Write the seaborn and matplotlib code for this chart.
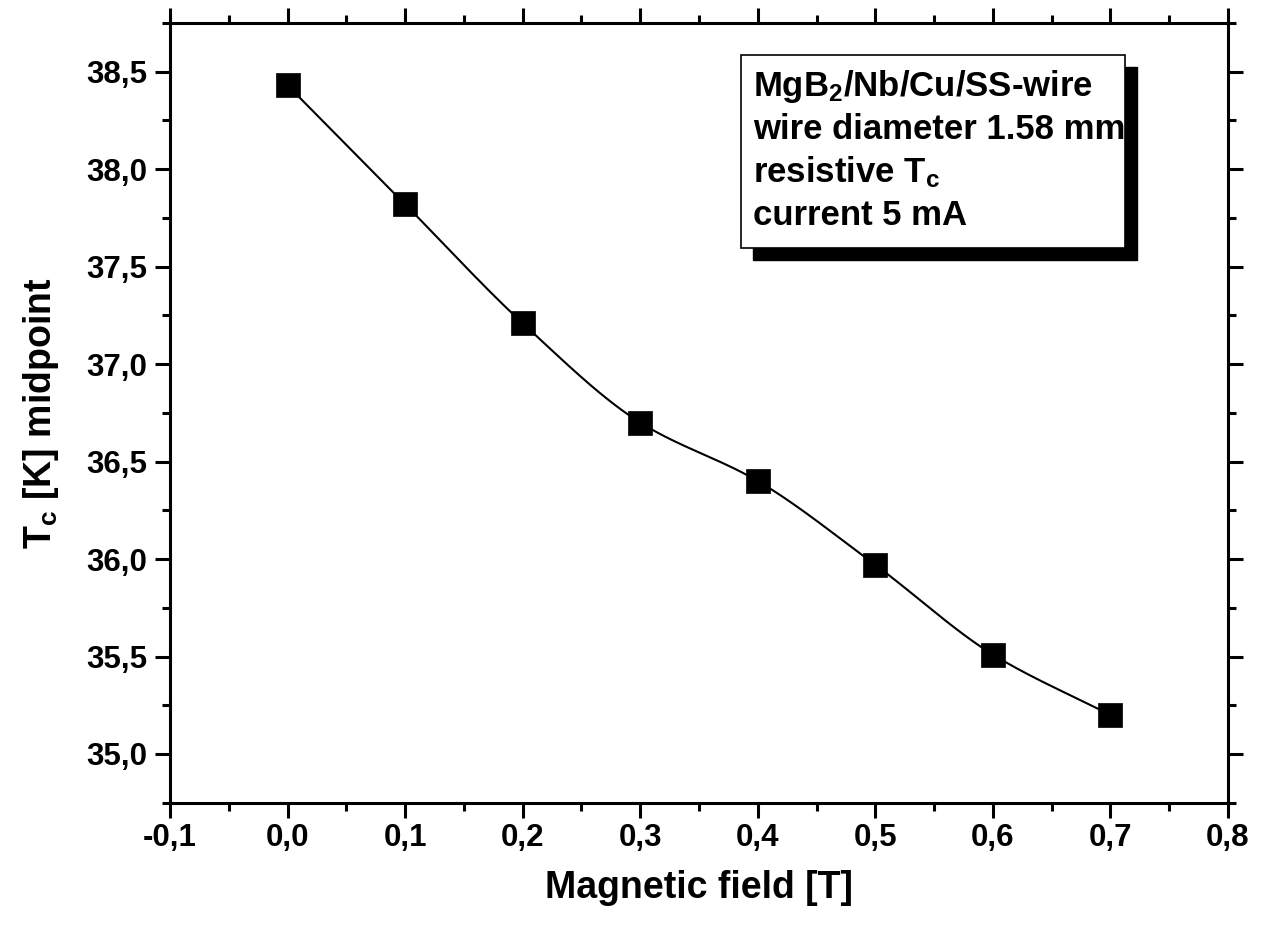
import numpy as np
import pandas as pd
import matplotlib
matplotlib.use("Agg")
import matplotlib.pyplot as plt
from matplotlib.ticker import MultipleLocator, FuncFormatter
from matplotlib.patches import Rectangle
import seaborn as sns

# ---- data ----
field_T = [0.0, 0.1, 0.2, 0.3, 0.4, 0.5, 0.6, 0.7]
tc_mid_K = [38.43, 37.82, 37.21, 36.70, 36.40, 35.97, 35.51, 35.20]
legend_lines = ["MgB$_2$/Nb/Cu/SS-wire", "wire diameter 1.58 mm",
                "resistive T$_c$", "current 5 mA"]
x_label = "Magnetic field [T]"
y_label = "T$_c$ [K] midpoint"

sns.set_theme(style="ticks")
plt.rcParams["font.family"] = ["Liberation Sans", "DejaVu Sans"]
plt.rcParams["font.weight"] = "bold"
plt.rcParams["text.color"] = "black"
plt.rcParams["axes.labelcolor"] = "black"
plt.rcParams["xtick.color"] = "black"
plt.rcParams["ytick.color"] = "black"
plt.rcParams["mathtext.fontset"] = "custom"
plt.rcParams["mathtext.rm"] = "Liberation Sans:bold"
plt.rcParams["mathtext.it"] = "Liberation Sans:bold"
plt.rcParams["mathtext.bf"] = "Liberation Sans:bold"
plt.rcParams["mathtext.default"] = "rm"


def pchip(x, y, xs):
    x = np.asarray(x, float); y = np.asarray(y, float)
    n = len(x); h = np.diff(x); dlt = np.diff(y) / h
    d = np.zeros(n)
    for i in range(1, n - 1):
        if dlt[i - 1] * dlt[i] > 0:
            w1 = 2 * h[i] + h[i - 1]; w2 = h[i] + 2 * h[i - 1]
            d[i] = (w1 + w2) / (w1 / dlt[i - 1] + w2 / dlt[i])
    d[0] = dlt[0]; d[-1] = dlt[-1]
    out = np.empty_like(xs)
    for k, xv in enumerate(xs):
        i = min(max(np.searchsorted(x, xv) - 1, 0), n - 2)
        t = (xv - x[i]) / h[i]
        h00 = 2 * t**3 - 3 * t**2 + 1; h10 = t**3 - 2 * t**2 + t
        h01 = -2 * t**3 + 3 * t**2; h11 = t**3 - t**2
        out[k] = h00 * y[i] + h10 * h[i] * d[i] + h01 * y[i + 1] + h11 * h[i] * d[i + 1]
    return out


df = pd.DataFrame({"field": field_T, "tc": tc_mid_K})
xs = np.linspace(min(field_T), max(field_T), 300)
smooth = pd.DataFrame({"field": xs, "tc": pchip(field_T, tc_mid_K, xs)})

W, H = 1261, 931
fig = plt.figure(figsize=(W / 100, H / 100), dpi=100)
ax = fig.add_axes([170 / W, 1 - 802.7 / H, (1228 - 170) / W, (802.7 - 23) / H])

sns.lineplot(data=smooth, x="field", y="tc", color="black", linewidth=1.5, ax=ax)
sns.scatterplot(data=df, x="field", y="tc", marker="s", s=17 ** 2, color="black",
                edgecolor="black", linewidth=0.5, ax=ax, zorder=5)

ax.set_xlim(-0.1, 0.8)
ax.set_ylim(34.75, 38.75)
ax.xaxis.set_major_locator(MultipleLocator(0.1))
ax.xaxis.set_minor_locator(MultipleLocator(0.05))
ax.yaxis.set_major_locator(MultipleLocator(0.5))
ax.yaxis.set_minor_locator(MultipleLocator(0.25))
ax.xaxis.set_major_formatter(FuncFormatter(lambda v, p: f"{v:.1f}".replace(".", ",").replace("-0,0", "0,0")))
ax.yaxis.set_major_formatter(FuncFormatter(lambda v, p: f"{v:.1f}".replace(".", ",")))

for s in ax.spines.values():
    s.set_visible(True)
    s.set_linewidth(2.2)
    s.set_color("black")
ax.tick_params(which="both", direction="out", top=True, right=True, width=2.2, color="black")
ax.tick_params(which="major", length=10.5, labelsize=22.5)
ax.tick_params(axis="x", which="major", pad=4)
ax.tick_params(axis="y", which="major", pad=6)
ax.tick_params(which="minor", length=5.5)
for lab in ax.get_xticklabels() + ax.get_yticklabels():
    lab.set_fontweight("bold")

ax.set_xlabel(x_label, fontsize=27, fontweight="bold", labelpad=12)
ax.set_ylabel(y_label, fontsize=27, fontweight="bold", labelpad=18)

def fx(px):
    return px / W

def fy(py):
    return 1 - py / H

fig.patches.append(Rectangle((fx(753), fy(260)), fx(1137) - fx(753), fy(67) - fy(260),
                             transform=fig.transFigure, facecolor="black", edgecolor="black", zorder=10))
fig.patches.append(Rectangle((fx(741), fy(248)), fx(1125) - fx(741), fy(55) - fy(248),
                             transform=fig.transFigure, facecolor="white", edgecolor="black",
                             linewidth=1.2, zorder=11))
baselines = [96, 139, 182, 225]
for txt, b in zip(legend_lines, baselines):
    fig.text(fx(753), fy(b), txt, fontsize=25, fontweight="bold", va="baseline", ha="left",
             zorder=12, color="black")

fig.savefig("out.png", dpi=100, facecolor="white")
